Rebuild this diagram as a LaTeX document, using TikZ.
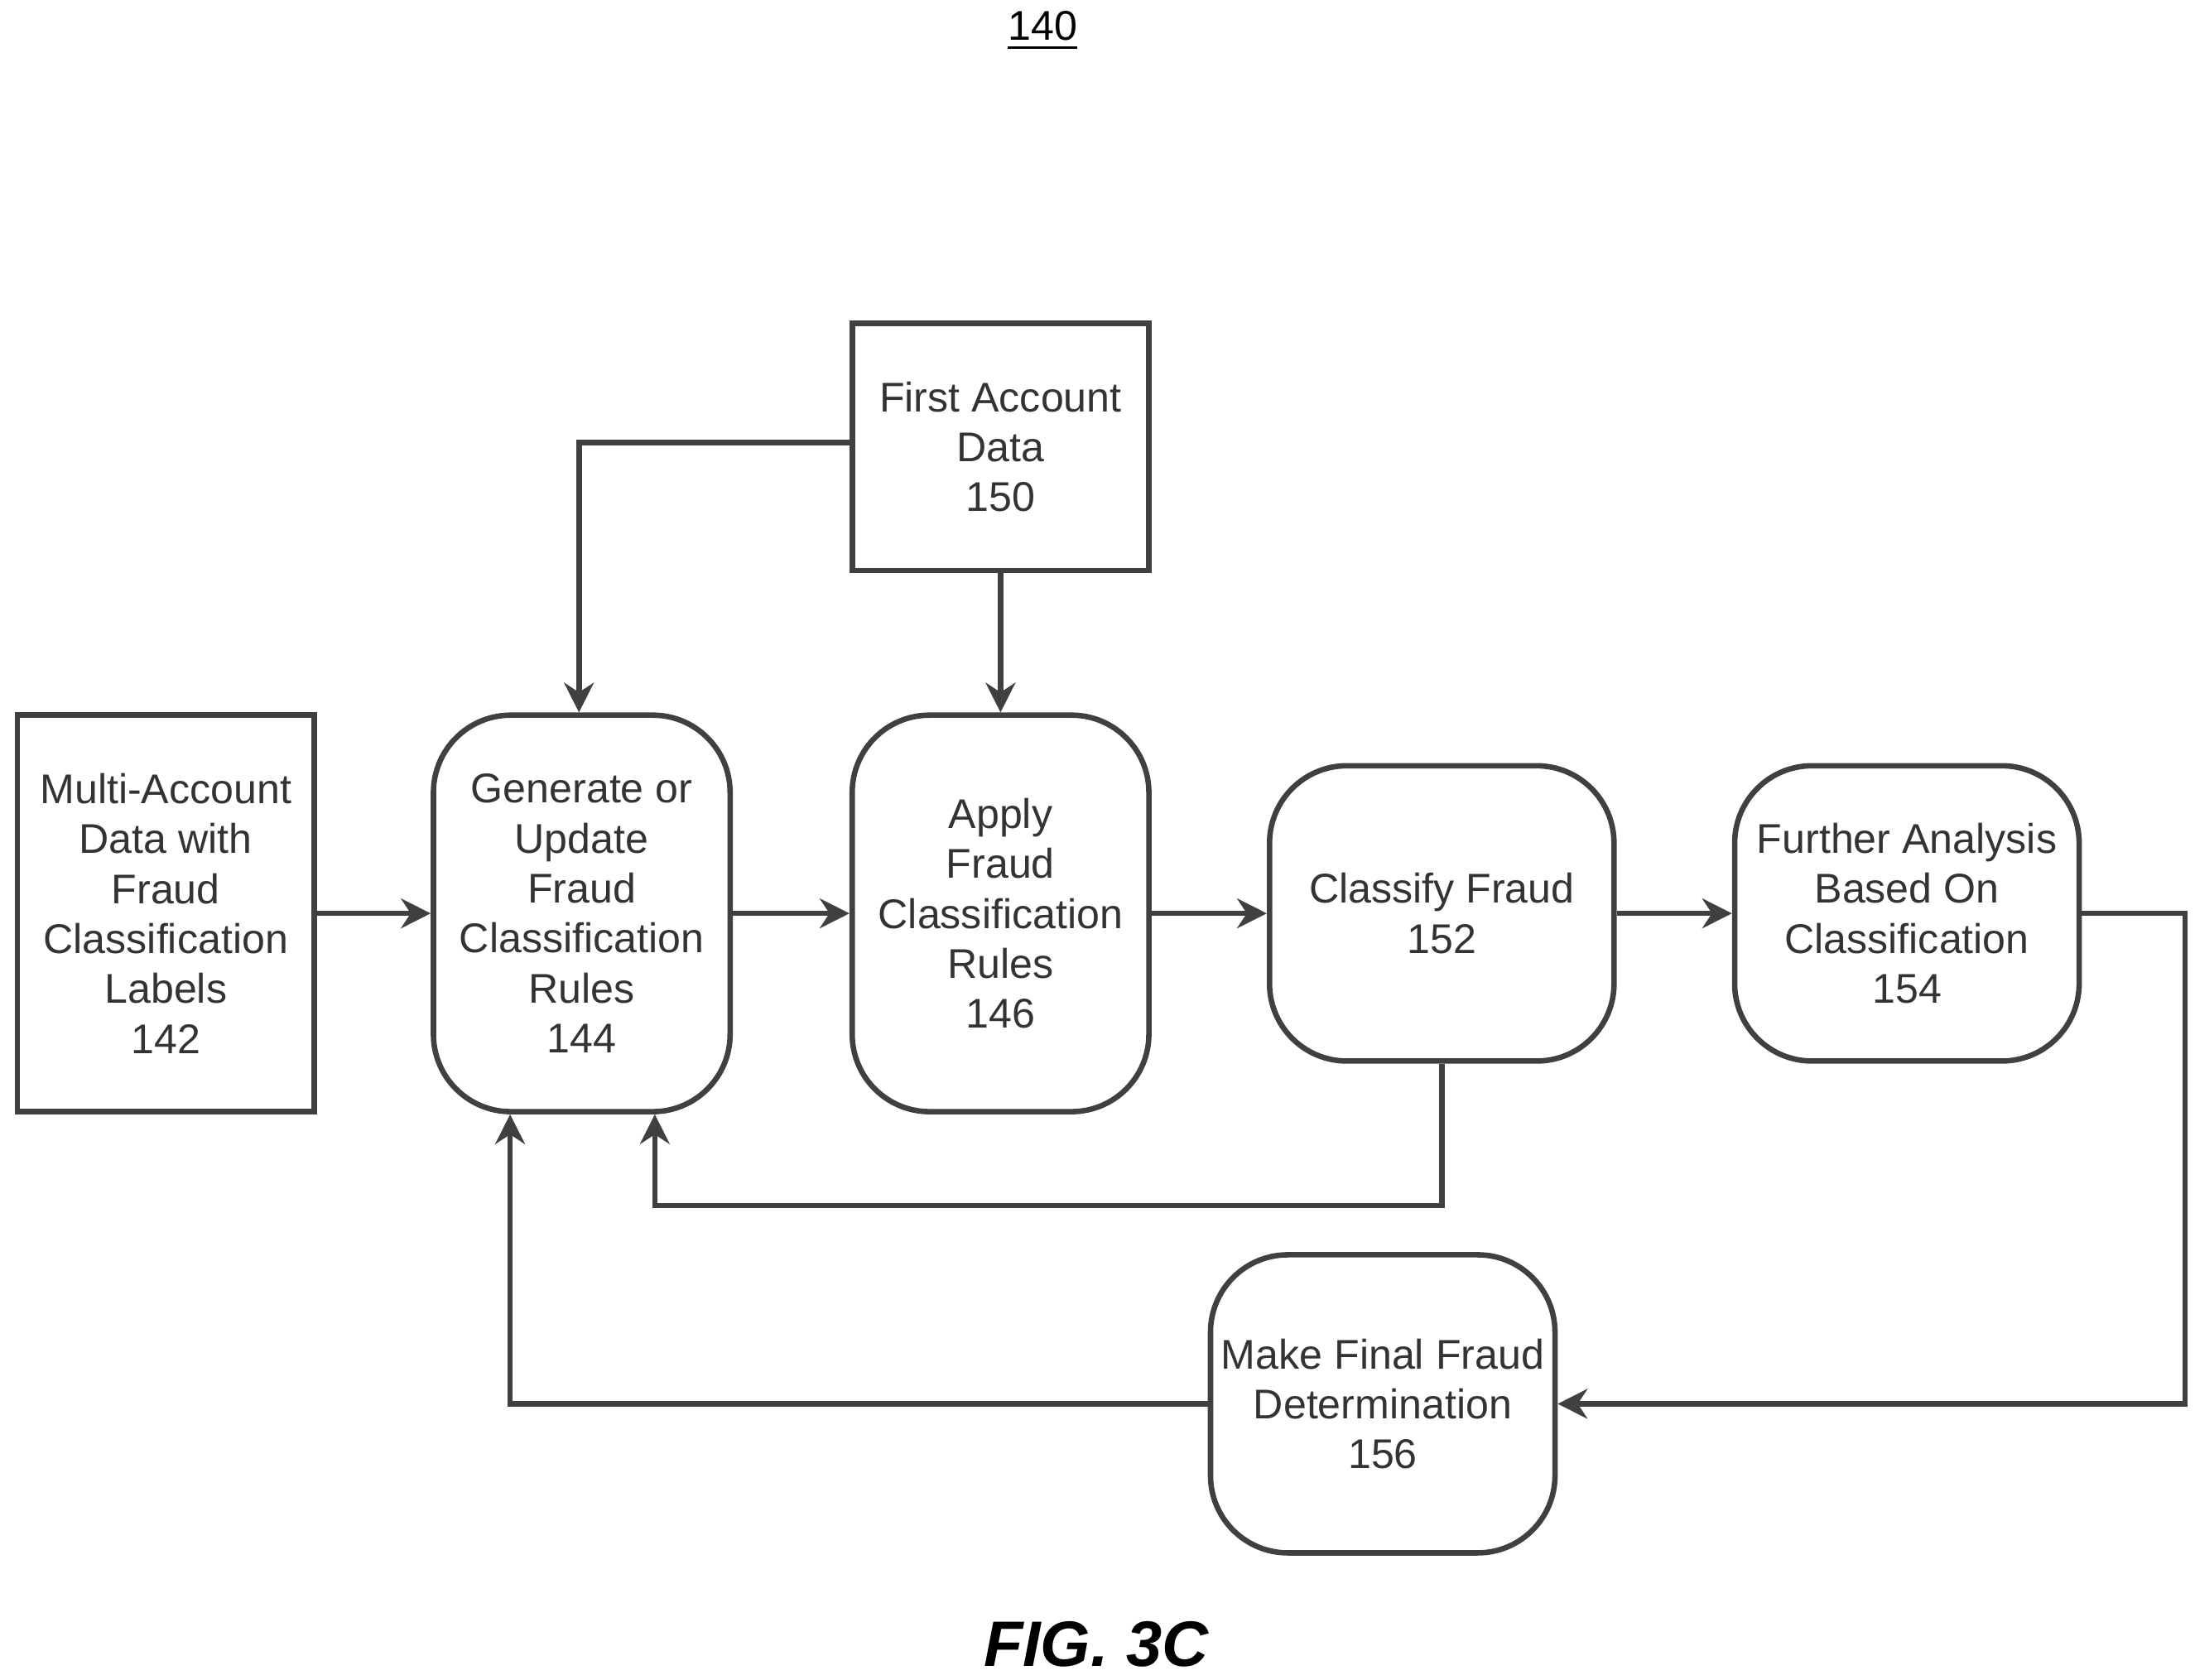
\documentclass[tikz,border=0pt]{standalone}
\usepackage{fontspec}
\setmainfont{Liberation Sans}
\usetikzlibrary{arrows.meta}

\tikzset{
	box/.style={draw=black!75, line width=1.1pt, align=center, inner sep=0pt,
		font=\fontsize{8.4}{10.1}\selectfont, text=black!80},
	stage/.style={box, rounded corners=0.55cm},
	flow/.style={draw=black!75, line width=1.1pt, -{Stealth[length=6pt,width=6pt]}}
}

\begin{document}
\begin{tikzpicture}[x=0.01cm, y=-0.01cm]

	\useasboundingbox (0,0) rectangle (1562,1195);

	\node at (742,22) {\fontsize{8.4}{10}\selectfont\underline{140}};

	% boxes
	\node[box, minimum width=2.11cm, minimum height=1.76cm] (first) at (712,318) {First Account\\Data\\150};
	\node[box, minimum width=2.11cm, minimum height=2.82cm] (multi) at (118,650) {Multi-Account\\Data with\\Fraud\\Classification\\Labels\\142};
	\node[stage, minimum width=2.11cm, minimum height=2.82cm] (gen) at (414,650) {Generate or\\Update\\Fraud\\Classification\\Rules\\144};
	\node[stage, minimum width=2.11cm, minimum height=2.82cm] (apply) at (712,650) {Apply\\Fraud\\Classification\\Rules\\146};
	\node[stage, minimum width=2.45cm, minimum height=2.10cm] (classify) at (1026,650) {Classify Fraud\\152};
	\node[stage, minimum width=2.45cm, minimum height=2.10cm] (further) at (1357,650) {Further Analysis\\Based On\\Classification\\154};
	\node[stage, minimum width=2.45cm, minimum height=2.12cm] (final) at (984,999) {Make Final Fraud\\Determination\\156};

	% connectors
	\draw[flow] (first.west |- 0,315) -| ([xshift=-0.02cm]gen.north);
	\draw[flow] (first) -- (apply);
	\draw[flow] (multi) -- (gen);
	\draw[flow] (gen) -- (apply);
	\draw[flow] (apply) -- (classify);
	\draw[flow] (classify) -- (further);
	\draw[flow] (classify.south) |- (466,858) -- (gen.south -| 466,0);
	\draw[flow] (further.east) -- (1555,650) |- (final.east);
	\draw[flow] (final.west) -| (gen.south -| 363,0);

	\node at (780,1170) {\fontsize{13}{15}\selectfont\bfseries\itshape FIG. 3C};

\end{tikzpicture}
\end{document}
